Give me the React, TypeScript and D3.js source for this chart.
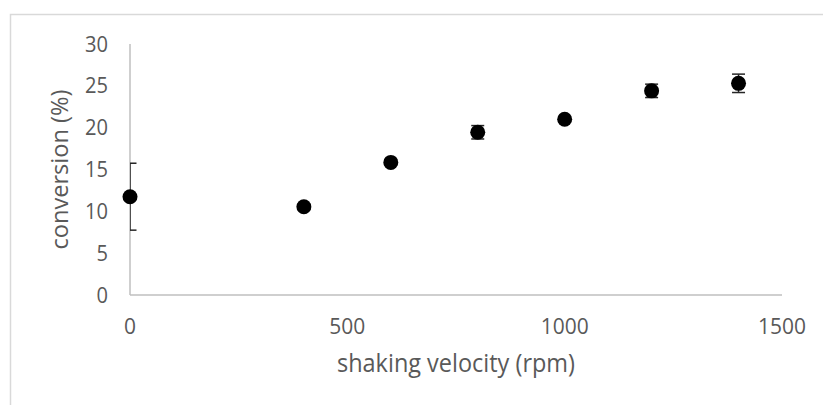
import React from "react";
import * as d3 from "d3";

const velocities = [0, 400, 600, 800, 1000, 1200, 1400];
const conversion = [11.75, 10.55, 15.85, 19.45, 21.0, 24.4, 25.3];
const errors = [4.0, 0.3, 0.3, 0.8, 0.3, 0.8, 1.1];
const xTicks = [0, 500, 1000, 1500];
const yTicks = [0, 5, 10, 15, 20, 25, 30];
const xTitle = "shaking velocity (rpm)";
const yTitle = "conversion (%)";

const W = 823;
const H = 405;
const left = 130;
const right = 782;
const top = 44;
const bottom = 295;

export default function App() {
  const x = d3.scaleLinear().domain([0, 1500]).range([left, right]);
  const y = d3.scaleLinear().domain([0, 30]).range([bottom, top]);
  const font = "'Open Sans', sans-serif";
  const textColor = "#595959";
  return (
    <svg
      width={W}
      height={H}
      style={{ position: "absolute", left: 0, top: 0, background: "#fff" }}
    >
      <defs>
        <clipPath id="plotClip">
          <rect x={left} y={top - 20} width={right - left + 20} height={bottom - top + 20} />
        </clipPath>
      </defs>
      <rect x={10.5} y={14.5} width={900} height={500} fill="#fff" stroke="#d9d9d9" strokeWidth={1.5} />
      <line x1={left} x2={left} y1={y(30)} y2={y(0)} stroke="#bfbfbf" strokeWidth={1.5} />
      <line x1={left} x2={right} y1={y(0)} y2={y(0)} stroke="#bfbfbf" strokeWidth={1.5} />
      {yTicks.map((t) => (
        <text
          key={"y" + t}
          x={108}
          y={y(t)}
          dy="0.36em"
          textAnchor="end"
          fontFamily={font}
          fontSize={21}
          fill={textColor}
          textLength={String(t).length * 11.5}
          lengthAdjust="spacingAndGlyphs"
        >
          {t}
        </text>
      ))}
      {xTicks.map((t) => (
        <text
          key={"x" + t}
          x={x(t)}
          y={334}
          textAnchor="middle"
          fontFamily={font}
          fontSize={21}
          fill={textColor}
          textLength={String(t).length * 12}
          lengthAdjust="spacingAndGlyphs"
        >
          {t}
        </text>
      ))}
      <text
        x={(left + right) / 2}
        y={372}
        textAnchor="middle"
        fontFamily={font}
        fontSize={25}
        fill={textColor}
        textLength={238}
        lengthAdjust="spacingAndGlyphs"
      >
        {xTitle}
      </text>
      <text
        transform={`translate(68,${(top + bottom) / 2}) rotate(-90)`}
        textAnchor="middle"
        fontFamily={font}
        fontSize={23}
        fill={textColor}
        textLength={160}
        lengthAdjust="spacingAndGlyphs"
      >
        {yTitle}
      </text>
      <g clipPath="url(#plotClip)" stroke="#262626" strokeWidth={1.5}>
        {velocities.map((v, i) => {
          const cx = x(v);
          const y1 = y(conversion[i] + errors[i]);
          const y2 = y(conversion[i] - errors[i]);
          return (
            <g key={"e" + i}>
              <line x1={cx} x2={cx} y1={y1} y2={y2} />
              <line x1={cx - 6.5} x2={cx + 6.5} y1={y1} y2={y1} />
              <line x1={cx - 6.5} x2={cx + 6.5} y1={y2} y2={y2} />
            </g>
          );
        })}
      </g>
      {velocities.map((v, i) => (
        <circle key={"p" + i} cx={x(v)} cy={y(conversion[i])} r={7.5} fill="#000" />
      ))}
    </svg>
  );
}
